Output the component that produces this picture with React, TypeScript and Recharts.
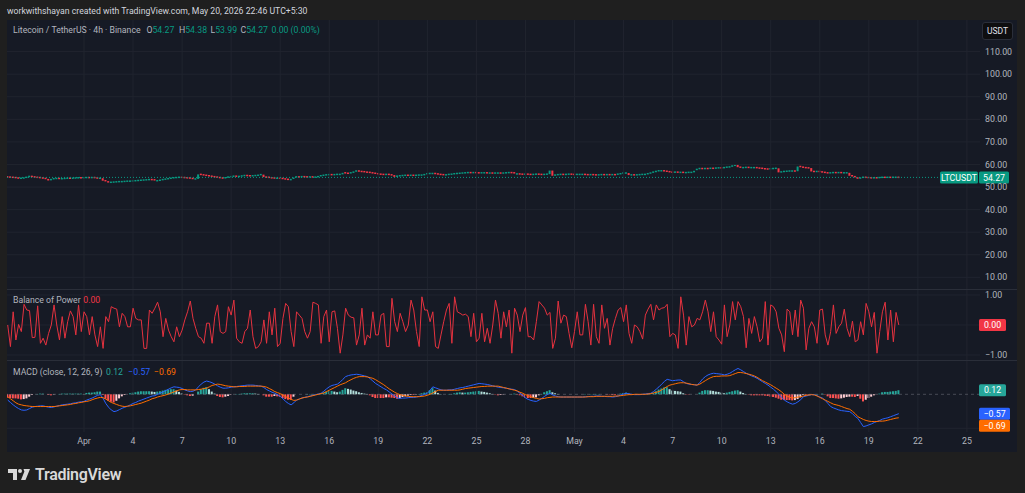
import React from 'react';
import { ComposedChart, Bar, Line, XAxis, YAxis, ReferenceLine, Cell } from 'recharts';

// ---------- data (4h bars, Mar 27 08:00 -> May 20 20:00) ----------
const closes = [
  54.4, 54.3, 54.2, 54.0, 53.9, 53.9, 54.0, 54.3, 54.7, 54.5,
  54.3, 54.2, 54.0, 53.8, 53.6, 52.9, 53.3, 53.7, 53.8, 53.6,
  53.7, 53.8, 53.9, 53.8, 53.9, 54.0, 54.1, 54.0, 54.1, 54.2,
  54.1, 54.2, 54.0, 53.9, 53.9, 52.8, 52.3, 52.0, 52.1, 52.2,
  52.3, 52.4, 52.4, 52.5, 52.6, 52.6, 52.7, 52.8, 52.9, 53.0,
  53.1, 53.2, 53.3, 53.2, 52.6, 52.8, 53.0, 53.3, 53.5, 53.7,
  53.9, 54.1, 54.2, 54.3, 54.2, 54.1, 54.0, 53.8, 53.5, 53.6,
  55.6, 55.4, 55.2, 55.0, 54.8, 54.6, 54.4, 54.2, 54.0, 53.9,
  54.1, 54.4, 54.6, 54.8, 54.6, 54.7, 54.9, 55.1, 55.0, 54.9,
  55.0, 55.1, 55.2, 55.5, 54.4, 54.3, 54.1, 54.0, 53.9, 53.9,
  53.8, 53.6, 53.4, 53.1, 53.3, 53.9, 54.5, 54.4, 54.6, 54.5,
  54.4, 54.5, 54.3, 54.4, 54.6, 55.0, 55.2, 55.4, 55.5, 55.4,
  55.5, 55.6, 55.6, 56.3, 56.1, 55.9, 56.3, 56.6, 57.1, 56.9,
  56.8, 56.6, 56.5, 56.3, 56.1, 55.9, 55.7, 55.6, 55.5, 55.6,
  55.4, 55.3, 54.5, 54.8, 55.0, 55.1, 55.2, 55.1, 55.2, 55.1,
  55.2, 55.3, 55.3, 55.5, 55.9, 56.0, 56.0, 55.8, 55.6, 55.5,
  55.4, 55.4, 55.6, 55.7, 55.9, 56.0, 56.1, 56.2, 56.3, 56.4,
  56.3, 56.4, 56.3, 56.2, 56.3, 56.3, 56.1, 56.2, 56.1, 56.2,
  56.2, 56.1, 56.2, 56.3, 56.4, 56.3, 55.7, 55.8, 55.7, 55.6,
  55.7, 55.6, 55.5, 55.6, 55.7, 55.6, 55.5, 55.6, 55.7, 57.3,
  55.0, 55.3, 55.5, 55.6, 55.5, 55.6, 55.7, 55.6, 55.5, 55.6,
  55.6, 55.6, 55.5, 55.4, 55.5, 55.4, 55.3, 55.4, 55.5, 55.4,
  55.5, 55.4, 55.5, 55.4, 55.7, 55.9, 56.2, 56.2, 55.3, 55.4,
  55.3, 55.4, 55.5, 55.6, 55.6, 55.9, 56.2, 56.6, 56.9, 57.2,
  57.2, 57.0, 56.8, 56.6, 56.5, 56.6, 56.4, 56.5, 56.3, 56.4,
  56.5, 56.5, 57.2, 57.8, 58.2, 58.0, 58.2, 58.1, 58.3, 58.2,
  58.4, 58.5, 58.4, 58.6, 58.8, 58.9, 59.3, 60.2, 58.8, 58.6,
  58.6, 58.7, 58.5, 58.6, 58.6, 58.4, 58.3, 58.1, 58.0, 57.9,
  58.1, 58.2, 58.3, 56.5, 56.7, 56.9, 57.0, 57.1, 57.1, 57.0,
  59.1, 58.8, 58.6, 58.5, 58.4, 56.9, 56.8, 56.9, 56.7, 56.5,
  56.3, 56.2, 56.3, 56.4, 56.3, 56.4, 56.2, 56.3, 56.3, 55.0,
  54.6, 54.0, 53.8, 54.0, 54.3, 54.2, 54.1, 54.0, 54.1, 54.0,
  54.2, 54.3, 54.2, 54.3, 54.2, 54.3, 54.3, 54.27,
];
const firstOpen = 54.5;

const bop = [
  0, -0.72, 0.44, -0.5, 0.02, -0.22, 0.69, 0.5, 0.48, -0.42,
  -0.41, 0.64, -0.61, -0.44, -0.67, -0.28, 0, 0.67, 0, -0.5,
  0.28, -0.44, 0.11, 0.47, 0.28, -0.33, 0.67, -0.22, 0.44, 0.28,
  -0.33, 0.28, -0.33, -0.72, -0.06, -0.78, 0.28, 0.11, 0.61, 0.56,
  0.53, -0.06, 0.39, 0.28, -0.06, -0.06, 0.56, 0.22, 0.17, 0.17,
  -0.78, -0.78, 0.5, 0.39, 0.56, 0.76, 0.44, -0.39, 0.22, -0.17,
  -0.39, -0.56, -0.06, -0.39, -0.17, 0.17, 0.44, 0.8, 0.22, -0.11,
  -0.39, -0.44, -0.61, 0.06, 0.06, -0.61, 0.28, 0.67, -0.22, -0.28,
  -0.22, 0.61, 0.33, 0.83, -0.44, -0.56, -0.61, -0.22, -0.11, 0.5,
  -0.39, -0.78, -0.72, -0.56, 0.17, -0.61, 0.44, -0.33, 0.56, -0.72,
  -0.61, 0.22, 0.72, 0.61, -0.22, -0.72, 0.44, 0.33, 0.22, -0.22,
  -0.44, -0.22, 0.76, 0.72, 0.67, -0.61, 0.28, 0.5, -0.56, 0.44,
  0.47, -0.11, -0.94, -0.33, 0.56, 0.33, 0.26, 0.24, -0.67, -0.33,
  0.56, -0.67, -0.33, -0.44, 0.44, -0.33, -0.33, 0.33, 0.39, -0.72,
  -0.72, 0.89, 0.11, -0.22, 0.39, 0.11, -0.22, 0, 0.83, 0.5,
  -0.22, -0.72, 0.94, 0.5, 0.5, 0.11, 0.44, -0.72, -0.78, -0.33,
  0.11, 0.5, 0.72, -0.61, 0.94, 0.44, 0.39, 0.33, 0.36, 0.28,
  -0.39, 0.39, -0.56, -0.44, 0.39, -0.56, -0.11, -0.61, 0, 0.83,
  0.39, -0.44, 0.44, -0.06, 0.5, -0.94, 0.56, 0.33, -0.22, 0.33,
  0.58, -0.39, -0.39, -0.5, 0.11, 0.78, 0.67, 0.56, 0.33, 0.42,
  -0.78, -0.44, 0.8, 0.06, 0.33, 0.28, -0.28, -0.76, -0.22, 0.44,
  -0.33, -0.33, 0.69, 0.11, -0.67, 0.69, -0.39, -0.61, 0.67, -0.11,
  0.22, -0.67, -0.11, 0.22, 0.5, 0.58, 0.11, 0.67, -0.28, -0.61,
  0, -0.06, -0.22, -0.47, 0.33, 0.53, 0.69, 0.17, 0.67, 0.5,
  0.56, 0.58, 0.69, -0.39, -0.28, -0.33, -0.78, 0.94, 0.33, -0.67,
  0.28, -0.06, 0, 0.22, 0.17, 0.44, 0.83, 0.44, -0.22, 0.44,
  -0.39, -0.5, -0.64, 0.67, -0.39, 0, 0.78, 0.17, 0.78, 0.61,
  0.28, -0.76, 0.22, -0.28, 0.28, -0.06, -0.56, -0.44, 0.78, -0.67,
  0.67, 0.61, 0.44, -0.11, -0.33, -0.89, 0.53, 0.44, -0.33, 0.5,
  -0.39, 0.83, 0.56, -0.83, -0.11, 0.11, -0.06, -0.61, 0.5, 0.53,
  -0.33, -0.67, -0.22, 0.67, -0.28, -0.06, 0.06, 0.53, -0.11, -0.39,
  0.13, -0.56, -0.5, 0.11, -0.33, 0.72, 0.44, -0.06, 0.42, -0.94,
  -0.22, 0.44, 0.76, -0.5, 0.5, -0.56, 0.42, 0,
];

const macdLine = [
  -0.17, -0.24, -0.31, -0.37, -0.42, -0.46, -0.47, -0.46, -0.42, -0.38,
  -0.36, -0.35, -0.34, -0.34, -0.36, -0.38, -0.39, -0.37, -0.35, -0.33,
  -0.31, -0.30, -0.29, -0.28, -0.26, -0.25, -0.23, -0.22, -0.21, -0.17,
  -0.14, -0.11, -0.07, -0.03, -0.01, -0.12, -0.27, -0.38, -0.46, -0.51,
  -0.49, -0.45, -0.41, -0.38, -0.35, -0.31, -0.27, -0.24, -0.20, -0.17,
  -0.14, -0.11, -0.08, -0.05, -0.04, 0.0, 0.03, 0.07, 0.11, 0.15,
  0.19, 0.22, 0.21, 0.20, 0.17, 0.13, 0.10, 0.08, 0.09, 0.13,
  0.22, 0.30, 0.36, 0.39, 0.37, 0.34, 0.30, 0.25, 0.21, 0.18,
  0.18, 0.19, 0.21, 0.22, 0.23, 0.24, 0.25, 0.26, 0.27, 0.27,
  0.27, 0.26, 0.25, 0.24, 0.20, 0.14, 0.10, 0.06, 0.03, -0.01,
  -0.06, -0.13, -0.21, -0.27, -0.31, -0.25, -0.17, -0.14, -0.11, -0.09,
  -0.07, -0.05, -0.03, -0.01, 0.01, 0.03, 0.09, 0.16, 0.22, 0.26,
  0.28, 0.30, 0.36, 0.44, 0.52, 0.55, 0.57, 0.58, 0.59, 0.58,
  0.56, 0.54, 0.52, 0.46, 0.39, 0.32, 0.27, 0.22, 0.17, 0.13,
  0.07, 0.01, -0.05, -0.11, -0.12, -0.11, -0.11, -0.10, -0.09, -0.09,
  -0.08, -0.06, -0.03, 0.00, 0.03, 0.12, 0.22, 0.19, 0.16, 0.13,
  0.12, 0.12, 0.13, 0.13, 0.15, 0.17, 0.19, 0.20, 0.22, 0.24,
  0.26, 0.28, 0.30, 0.32, 0.31, 0.30, 0.29, 0.27, 0.25, 0.23,
  0.21, 0.20, 0.19, 0.18, 0.16, 0.15, 0.14, 0.09, 0.03, -0.03,
  -0.11, -0.15, -0.18, -0.20, -0.21, -0.17, -0.12, -0.06, -0.01, 0.03,
  -0.02, -0.05, -0.07, -0.08, -0.08, -0.08, -0.08, -0.08, -0.08, -0.08,
  -0.08, -0.08, -0.07, -0.07, -0.06, -0.06, -0.05, -0.05, -0.06, -0.06,
  -0.07, -0.07, -0.08, -0.07, -0.05, -0.02, 0.01, 0.03, 0.01, 0.00,
  -0.01, -0.01, -0.01, 0.00, 0.01, 0.02, 0.03, 0.08, 0.15, 0.22,
  0.30, 0.38, 0.44, 0.42, 0.40, 0.41, 0.42, 0.42, 0.37, 0.32,
  0.30, 0.29, 0.28, 0.27, 0.35, 0.45, 0.52, 0.57, 0.60, 0.62,
  0.61, 0.60, 0.59, 0.57, 0.59, 0.62, 0.67, 0.72, 0.76, 0.72,
  0.67, 0.62, 0.58, 0.54, 0.51, 0.47, 0.42, 0.37, 0.32, 0.27,
  0.21, 0.15, 0.08, 0.00, -0.09, -0.17, -0.22, -0.26, -0.29, -0.27,
  -0.22, -0.16, -0.07, -0.05, -0.03, -0.01, -0.01, -0.04, -0.08, -0.11,
  -0.18, -0.27, -0.36, -0.40, -0.43, -0.46, -0.48, -0.49, -0.50, -0.51,
  -0.57, -0.65, -0.71, -0.83, -0.95, -0.93, -0.90, -0.87, -0.83, -0.80,
  -0.77, -0.73, -0.71, -0.69, -0.66, -0.63, -0.60, -0.57,
];

const signalLine = [
  -0.07, -0.13, -0.19, -0.25, -0.29, -0.31, -0.33, -0.34, -0.35, -0.36,
  -0.36, -0.36, -0.36, -0.36, -0.36, -0.36, -0.36, -0.36, -0.35, -0.34,
  -0.33, -0.32, -0.31, -0.30, -0.28, -0.27, -0.25, -0.24, -0.22, -0.21,
  -0.19, -0.16, -0.13, -0.11, -0.09, -0.10, -0.14, -0.19, -0.24, -0.27,
  -0.30, -0.33, -0.35, -0.36, -0.35, -0.34, -0.32, -0.30, -0.28, -0.26,
  -0.23, -0.20, -0.17, -0.13, -0.11, -0.08, -0.06, -0.04, -0.02, 0.01,
  0.04, 0.07, 0.10, 0.13, 0.14, 0.14, 0.13, 0.13, 0.13, 0.13,
  0.14, 0.15, 0.17, 0.18, 0.22, 0.26, 0.28, 0.30, 0.29, 0.27,
  0.25, 0.24, 0.23, 0.22, 0.22, 0.23, 0.23, 0.23, 0.24, 0.24,
  0.24, 0.24, 0.24, 0.24, 0.23, 0.21, 0.17, 0.13, 0.08, 0.05,
  0.02, -0.02, -0.07, -0.11, -0.15, -0.18, -0.17, -0.14, -0.11, -0.09,
  -0.08, -0.06, -0.04, -0.02, 0.00, 0.02, 0.04, 0.08, 0.12, 0.16,
  0.20, 0.24, 0.28, 0.31, 0.34, 0.39, 0.43, 0.47, 0.50, 0.52,
  0.52, 0.52, 0.51, 0.49, 0.47, 0.43, 0.38, 0.33, 0.28, 0.22,
  0.16, 0.11, 0.06, 0.02, -0.01, -0.03, -0.05, -0.06, -0.07, -0.07,
  -0.07, -0.07, -0.06, -0.05, -0.03, 0.00, 0.04, 0.08, 0.12, 0.12,
  0.12, 0.12, 0.12, 0.12, 0.12, 0.12, 0.13, 0.15, 0.17, 0.18,
  0.19, 0.20, 0.21, 0.22, 0.23, 0.23, 0.24, 0.24, 0.24, 0.24,
  0.24, 0.22, 0.20, 0.18, 0.16, 0.14, 0.12, 0.10, 0.06, 0.03,
  -0.01, -0.04, -0.07, -0.10, -0.12, -0.14, -0.13, -0.12, -0.10, -0.09,
  -0.08, -0.08, -0.08, -0.08, -0.08, -0.08, -0.08, -0.08, -0.08, -0.08,
  -0.08, -0.08, -0.08, -0.07, -0.07, -0.07, -0.06, -0.06, -0.06, -0.06,
  -0.06, -0.06, -0.06, -0.05, -0.05, -0.04, -0.03, -0.02, -0.01, -0.01,
  0.00, 0.00, 0.00, 0.00, 0.00, 0.01, 0.02, 0.04, 0.06, 0.08,
  0.13, 0.18, 0.23, 0.27, 0.29, 0.31, 0.33, 0.34, 0.34, 0.33,
  0.31, 0.29, 0.28, 0.27, 0.30, 0.35, 0.40, 0.45, 0.49, 0.52,
  0.53, 0.53, 0.54, 0.54, 0.54, 0.55, 0.58, 0.61, 0.64, 0.64,
  0.63, 0.61, 0.59, 0.57, 0.54, 0.50, 0.45, 0.40, 0.36, 0.32,
  0.28, 0.23, 0.18, 0.13, 0.07, 0.00, -0.05, -0.09, -0.11, -0.10,
  -0.08, -0.07, -0.05, -0.03, -0.02, -0.01, -0.02, -0.05, -0.09, -0.13,
  -0.17, -0.21, -0.25, -0.29, -0.31, -0.33, -0.36, -0.39, -0.42, -0.44,
  -0.50, -0.57, -0.66, -0.70, -0.74, -0.77, -0.79, -0.80, -0.80, -0.80,
  -0.79, -0.79, -0.78, -0.76, -0.74, -0.72, -0.70, -0.69,
];

const timeTicks = [28, 46, 64, 82, 100, 118, 136, 154, 172, 190, 208, 226, 244, 262, 280, 298, 316, 334, 352];
const timeLabels = ['Apr', '4', '7', '10', '13', '16', '19', '22', '25', '28', 'May', '4', '7', '10', '13', '16', '19', '22', '25'];
const priceTicks = [10, 20, 30, 40, 50, 60, 70, 80, 90, 100, 110];
const bopTicks = [1, -1];
const bopGrid = [1, 0, -1];
const macdGrid = [-1];
const lastPrice = 54.27;
const lastBop = 0;
const lastHist = 0.12;
const lastMacd = -0.57;
const lastSignal = -0.69;

// ---------- styling ----------
const FONT = 'Roboto, "Liberation Sans", sans-serif';
const BG = '#161a25';
const OUTER = '#1f1f1f';
const GRID = '#20242f';
const SEP = '#2a2e39';
const TXT = '#b2b5be';
const UP = '#089981';
const DOWN = '#f23645';
const BOPRED = '#e5323f';
const BLUE = '#2962ff';
const ORANGE = '#ff6d00';
const X_DOMAIN: [number, number] = [-0.26, 356.8];
const CHART_W = 1010;
const AXIS_W = 37;
const LFS = 8.7;

const rows = closes.map((c, i) => {
  const o = i === 0 ? firstOpen : closes[i - 1];
  const h = +(macdLine[i] - signalLine[i]).toFixed(3);
  const ph = i === 0 ? h : +(macdLine[i - 1] - signalLine[i - 1]).toFixed(3);
  let hc: string;
  if (h >= 0) hc = h >= ph ? '#26a69a' : '#b2dfdb';
  else hc = h <= ph ? '#ff5252' : '#ffcdd2';
  return {
    i,
    o,
    c,
    body: [Math.min(o, c), Math.max(o, c)],
    up: c >= o,
    bop: bop[i],
    macd: macdLine[i],
    sig: signalLine[i],
    hist: h,
    hc,
  };
});

const fmt = (v: number) => (v < 0 ? '\u2212' + Math.abs(v).toFixed(2) : v.toFixed(2));

const Candle = (p: any) => {
  const { x, y, width, height, payload } = p;
  const hh = Math.max(1.5, Math.abs(height || 0));
  const yy = Math.abs(height || 0) < 1.5 ? y - 0.75 : y;
  return <rect x={x} y={yy} width={width} height={hh} fill={payload.up ? UP : DOWN} />;
};

type BoxSpec = { text: string; bg: string; w: number; dx?: number; dy?: number; fg?: string };
const boxesLabel = (specs: BoxSpec[]) => (props: any) => {
  const vb = props.viewBox || {};
  const right = (vb.x || 0) + (vb.width || 0);
  return (
    <g>
      {specs.map((s, k) => {
        const x = right - 1 + (s.dx || 0);
        const cy = (vb.y || 0) + (s.dy || 0);
        return (
          <g key={k}>
            <rect x={x} y={cy - 6} width={s.w} height={12} rx={1.5} fill={s.bg} />
            <text
              x={x + s.w / 2}
              y={cy + 3.1}
              textAnchor="middle"
              fill={s.fg || '#ffffff'}
              fontSize={8.8}
              fontFamily={FONT}
            >
              {s.text}
            </text>
          </g>
        );
      })}
    </g>
  );
};

const vGrid = () =>
  timeTicks.map((t) => <ReferenceLine key={'v' + t} x={t} stroke={GRID} strokeWidth={1} ifOverflow="discard" />);

const tickStyle = { fill: TXT, fontSize: 8.8, fontFamily: FONT };

const piece = (left: number, top: number, color: string): React.CSSProperties => ({
  position: 'absolute',
  left,
  top,
  fontSize: LFS,
  lineHeight: '12px',
  color,
  whiteSpace: 'nowrap',
  fontFamily: FONT,
});

const TVLogo = () => (
  <div style={{ position: 'absolute', left: 8, top: 465, display: 'flex', alignItems: 'center', gap: 5 }}>
    <svg width={22} height={11} viewBox="0 0 22 11">
      <path d="M0 0 H9 V11 H5 V4 H0 Z" fill="#d9d9d9" />
      <circle cx={12} cy={2} r={2} fill="#d9d9d9" />
      <path d="M15.5 0 H22 L17.5 11 H13 L16.4 2.6 Z" fill="#d9d9d9" />
    </svg>
    <span style={{ color: '#d9d9d9', fontSize: 16, fontWeight: 600, fontFamily: FONT, letterSpacing: -0.3 }}>
      TradingView
    </span>
  </div>
);

export default function App() {
  return (
    <div
      style={{
        position: 'absolute',
        left: 0,
        top: 0,
        width: 1025,
        height: 493,
        background: OUTER,
        fontFamily: FONT,
        overflow: 'hidden',
      }}
    >
      <div style={{ position: 'absolute', left: 7, top: 5, fontSize: 8.7, lineHeight: '12px', color: '#d1d4dc', whiteSpace: 'nowrap' }}>
        workwithshayan created with TradingView.com, May 20, 2026 22:46 UTC+5:30
      </div>

      {/* frame */}
      <div style={{ position: 'absolute', left: 7, top: 20, width: 1010, height: 432, background: BG }} />

      {/* price pane */}
      <div style={{ position: 'absolute', left: 7, top: 20 }}>
        <ComposedChart width={CHART_W} height={269} data={rows} margin={{ top: 0, right: 0, bottom: 0, left: 0 }}>
          <XAxis dataKey="i" type="number" domain={X_DOMAIN} allowDataOverflow hide />
          <YAxis
            orientation="right"
            width={AXIS_W}
            domain={[4.83, 124]}
            allowDataOverflow
            ticks={priceTicks}
            interval={0}
            tickFormatter={fmt}
            tick={tickStyle}
            tickLine={false}
            axisLine={false}
            tickSize={0}
            tickMargin={5}
          />
          {vGrid()}
          {priceTicks.map((p) => (
            <ReferenceLine key={'h' + p} y={p} stroke={GRID} />
          ))}
          <ReferenceLine
            y={lastPrice}
            stroke={UP}
            strokeDasharray="1 2"
            strokeWidth={1}
            label={boxesLabel([
              { text: 'LTCUSDT', bg: UP, w: 38, dx: -39 },
              { text: lastPrice.toFixed(2), bg: UP, w: 30 },
            ])}
          />
          <Bar dataKey="body" barSize={2} shape={Candle} isAnimationActive={false} />
        </ComposedChart>
      </div>

      {/* balance of power pane */}
      <div style={{ position: 'absolute', left: 7, top: 289 }}>
        <ComposedChart width={CHART_W} height={71} data={rows} margin={{ top: 0, right: 0, bottom: 0, left: 0 }}>
          <XAxis dataKey="i" type="number" domain={X_DOMAIN} allowDataOverflow hide />
          <YAxis
            orientation="right"
            width={AXIS_W}
            domain={[-1.1667, 1.2]}
            allowDataOverflow
            ticks={bopTicks}
            interval={0}
            tickFormatter={fmt}
            tick={tickStyle}
            tickLine={false}
            axisLine={false}
            tickSize={0}
            tickMargin={5}
          />
          {vGrid()}
          {bopGrid.map((g) => (
            <ReferenceLine key={'b' + g} y={g} stroke={GRID} />
          ))}
          <Line
            dataKey="bop"
            type="linear"
            stroke={BOPRED}
            strokeWidth={1}
            dot={false}
            isAnimationActive={false}
          />
          <ReferenceLine
            y={lastBop}
            stroke="none"
            label={boxesLabel([{ text: fmt(lastBop), bg: DOWN, w: 27 }])}
          />
        </ComposedChart>
      </div>

      {/* MACD pane + time axis */}
      <div style={{ position: 'absolute', left: 7, top: 360 }}>
        <ComposedChart width={CHART_W} height={92} data={rows} margin={{ top: 0, right: 0, bottom: 0, left: 0 }}>
          <XAxis
            dataKey="i"
            type="number"
            domain={X_DOMAIN}
            allowDataOverflow
            ticks={timeTicks}
            interval={0}
            tickFormatter={(v: number) => timeLabels[timeTicks.indexOf(v)] ?? ''}
            tick={tickStyle}
            tickLine={false}
            axisLine={false}
            tickSize={0}
            tickMargin={6}
            height={20}
          />
          <YAxis
            orientation="right"
            width={AXIS_W}
            domain={[-1.109, 1.009]}
            allowDataOverflow
            tick={false}
            tickLine={false}
            axisLine={false}
          />
          {vGrid()}
          {macdGrid.map((g) => (
            <ReferenceLine key={'m' + g} y={g} stroke={GRID} />
          ))}
          <ReferenceLine y={0} stroke="#787b86" strokeOpacity={0.5} strokeDasharray="3 3" />
          <Bar dataKey="hist" barSize={2} isAnimationActive={false}>
            {rows.map((r) => (
              <Cell key={r.i} fill={r.hc} />
            ))}
          </Bar>
          <Line dataKey="macd" type="linear" stroke={BLUE} strokeWidth={1} dot={false} isAnimationActive={false} />
          <Line dataKey="sig" type="linear" stroke={ORANGE} strokeWidth={1} dot={false} isAnimationActive={false} />
          <ReferenceLine y={lastHist} stroke="none" label={boxesLabel([{ text: fmt(lastHist), bg: '#26a69a', w: 27 }])} />
          <ReferenceLine y={lastMacd} stroke="none" label={boxesLabel([{ text: fmt(lastMacd), bg: BLUE, w: 31 }])} />
          <ReferenceLine
            y={lastSignal}
            stroke="none"
            label={boxesLabel([{ text: fmt(lastSignal), bg: ORANGE, w: 31, dy: 8 }])}
          />
        </ComposedChart>
      </div>

      {/* pane separators */}
      <div style={{ position: 'absolute', left: 7, top: 289, width: 1010, height: 1, background: SEP }} />
      <div style={{ position: 'absolute', left: 7, top: 360, width: 1010, height: 1, background: SEP }} />

      {/* legends */}
      <div style={piece(13, 24, TXT)}>Litecoin / TetherUS · 4h · Binance</div>
      <div style={piece(146.5, 24, TXT)}>
        O<span style={{ color: UP }}>54.27</span>
      </div>
      <div style={piece(179, 24, TXT)}>
        H<span style={{ color: UP }}>54.38</span>
      </div>
      <div style={piece(210.5, 24, TXT)}>
        L<span style={{ color: UP }}>53.99</span>
      </div>
      <div style={piece(240.5, 24, TXT)}>
        C<span style={{ color: UP }}>54.27</span>
      </div>
      <div style={piece(271.5, 24, UP)}>0.00 (0.00%)</div>

      <div style={piece(13, 294, TXT)}>Balance of Power</div>
      <div style={piece(83.3, 294, DOWN)}>0.00</div>

      <div style={piece(13, 366, TXT)}>MACD (close, 12, 26, 9)</div>
      <div style={piece(106, 366, '#26a69a')}>0.12</div>
      <div style={piece(128.3, 366, BLUE)}>{'\u22120.57'}</div>
      <div style={piece(154, 366, ORANGE)}>{'\u22120.69'}</div>

      {/* currency box */}
      <div
        style={{
          position: 'absolute',
          left: 982,
          top: 22,
          width: 31,
          height: 18,
          background: '#0e0e10',
          border: '1px solid #2a2e39',
          borderRadius: 3,
          boxSizing: 'border-box',
          color: '#e0e3eb',
          fontSize: 8.5,
          lineHeight: '16px',
          textAlign: 'center',
        }}
      >
        USDT
      </div>

      <TVLogo />
    </div>
  );
}
